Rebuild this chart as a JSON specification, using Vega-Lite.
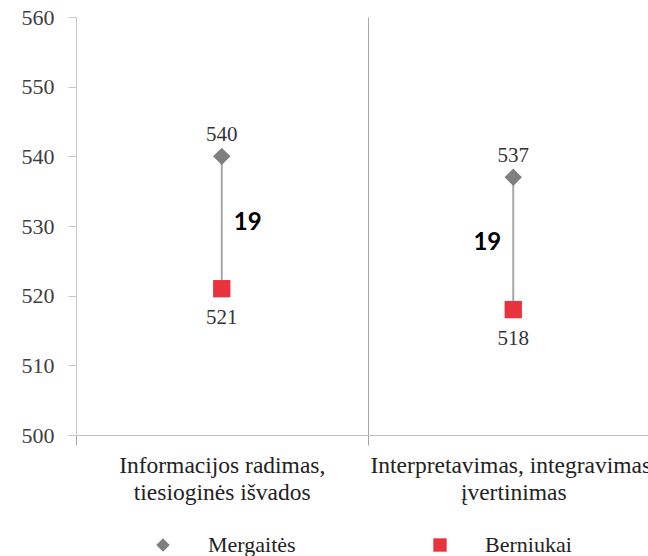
{
  "$schema": "https://vega.github.io/schema/vega-lite/v6.json",
  "autosize": "none",
  "width": 572,
  "height": 418,
  "padding": {"left": 76, "top": 17, "right": 0, "bottom": 121},
  "background": "white",
  "config": {"view": {"stroke": null}, "font": "Times New Roman, Liberation Serif, serif"},
  "data": {"values": [
    {"cat": "Informacijos radimas,|tiesioginės išvados", "group": "Mergaitės", "score": 540, "gap": 19},
    {"cat": "Informacijos radimas,|tiesioginės išvados", "group": "Berniukai", "score": 521, "gap": 19},
    {"cat": "Interpretavimas, integravimas,|įvertinimas", "group": "Mergaitės", "score": 537, "gap": 19},
    {"cat": "Interpretavimas, integravimas,|įvertinimas", "group": "Berniukai", "score": 518, "gap": 19}
  ]},
  "encoding": {
    "x": {"field": "cat", "type": "nominal", "sort": null,
      "scale": {"range": [0, 583], "paddingInner": 0, "paddingOuter": 0},
      "axis": {"title": null, "labelAngle": 0, "labelExpr": "split(datum.label, '|')", "labelLimit": 0,
        "labelFont": "Times New Roman, Liberation Serif, serif", "labelFontSize": 23.5, "labelColor": "#222222", "labelLineHeight": 27,
        "labelPadding": 8, "tickBand": "extent", "ticks": true, "tickSize": 10, "tickColor": "#a6a6a6",
        "domainColor": "#bfbfbf", "grid": true, "gridColor": "#a6a6a6", "gridWidth": 1}}
  },
  "layer": [
    {"mark": {"type": "rule", "color": "#a6a6a6", "strokeWidth": 2},
     "encoding": {
       "y": {"aggregate": "min", "field": "score", "type": "quantitative",
         "scale": {"domain": [500, 560], "nice": false, "zero": false},
         "axis": {"title": null, "values": [500, 510, 520, 530, 540, 550, 560], "labelFont": "Times New Roman, Liberation Serif, serif",
           "labelFontSize": 22, "labelColor": "#404040", "tickSize": 8, "tickColor": "#c8c8c8",
           "domainColor": "#c8c8c8", "labelPadding": 14, "grid": false, "zindex": 1}},
       "y2": {"aggregate": "max", "field": "score"}
     }},
    {"mark": {"type": "point", "filled": true, "opacity": 1, "size": 300},
     "encoding": {
       "y": {"field": "score", "type": "quantitative"},
       "shape": {"field": "group", "type": "nominal",
         "scale": {"domain": ["Mergaitės", "Berniukai"], "range": ["diamond", "square"]},
         "legend": {"title": null, "orient": "none", "direction": "horizontal", "legendX": 76, "legendY": 517,
           "labelFont": "Times New Roman, Liberation Serif, serif", "labelFontSize": 22, "labelColor": "#222222",
           "symbolSize": 180, "labelOffset": 34, "columnPadding": 133, "symbolStrokeWidth": 0}},
       "color": {"field": "group", "type": "nominal",
         "scale": {"domain": ["Mergaitės", "Berniukai"], "range": ["#7f7f7f", "#e8333f"]}}
     }},
    {"transform": [{"filter": "datum.group === 'Mergaitės'"}],
     "mark": {"type": "text", "dy": -21, "font": "Times New Roman, Liberation Serif, serif", "fontSize": 21, "color": "#333333"},
     "encoding": {"y": {"field": "score", "type": "quantitative"}, "text": {"field": "score", "type": "quantitative"}}},
    {"transform": [{"filter": "datum.group === 'Berniukai'"}],
     "mark": {"type": "text", "dy": 29, "font": "Times New Roman, Liberation Serif, serif", "fontSize": 21, "color": "#333333"},
     "encoding": {"y": {"field": "score", "type": "quantitative"}, "text": {"field": "score", "type": "quantitative"}}},
    {"transform": [{"filter": "indexof(datum.cat, 'Informacijos') === 0"}],
     "mark": {"type": "text", "align": "left", "dx": 12, "font": "Lato", "fontWeight": "bold", "fontSize": 24, "color": "#000000"},
     "encoding": {"y": {"aggregate": "mean", "field": "score", "type": "quantitative"},
       "text": {"aggregate": "max", "field": "gap", "type": "quantitative"}}},
    {"transform": [{"filter": "indexof(datum.cat, 'Interpretavimas') === 0"}],
     "mark": {"type": "text", "align": "right", "dx": -12, "font": "Lato", "fontWeight": "bold", "fontSize": 24, "color": "#000000"},
     "encoding": {"y": {"aggregate": "mean", "field": "score", "type": "quantitative"},
       "text": {"aggregate": "max", "field": "gap", "type": "quantitative"}}}
  ]
}
